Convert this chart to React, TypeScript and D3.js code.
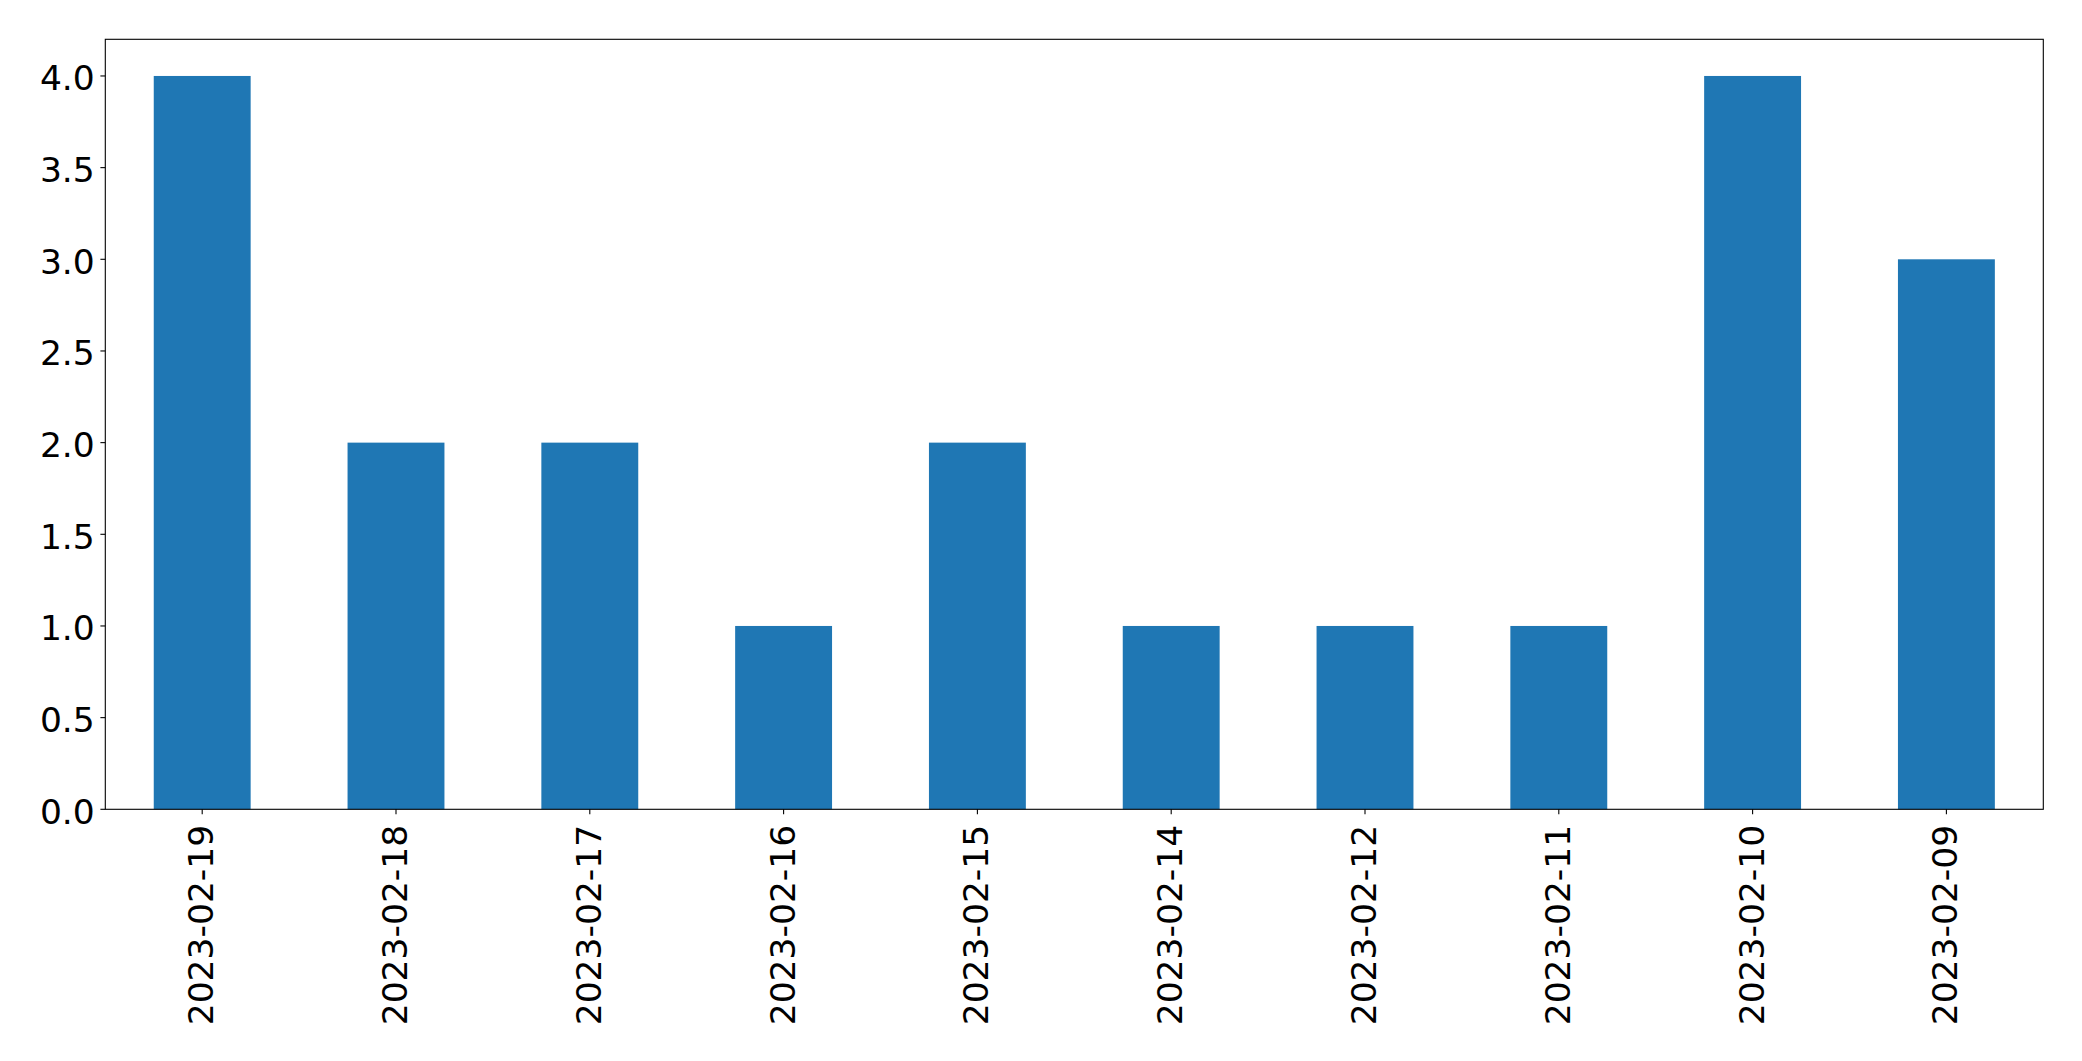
import React from "react";
import * as d3 from "d3";

const categories = ["2023-02-19","2023-02-18","2023-02-17","2023-02-16","2023-02-15","2023-02-14","2023-02-12","2023-02-11","2023-02-10","2023-02-09"];
const values = [4, 2, 2, 1, 2, 1, 1, 1, 4, 3];
const yTicks = [0, 0.5, 1, 1.5, 2, 2.5, 3, 3.5, 4];

const W = 2082, H = 1061;
const L = 105.3, R = 2043.3, T = 39.3, B = 809.3;
const FONT = "'DejaVu Sans', sans-serif";
const FS = 34.5;

export default function App() {
  const x = d3.scaleLinear().domain([-0.5, categories.length - 0.5]).range([L, R]);
  const y = d3.scaleLinear().domain([0, 4.2]).range([B, T]);
  const bw = x(0.25) - x(-0.25);
  return (
    <svg width={W} height={H} style={{ position: "absolute", left: 0, top: 0, background: "#fff" }}>
      <rect x={0} y={0} width={W} height={H} fill="#fff" />
      {values.map((v, i) => (
        <rect key={i} x={x(i) - bw / 2} y={y(v)} width={bw} height={y(0) - y(v)} fill="#1f77b4" />
      ))}
      <rect x={L} y={T} width={R - L} height={B - T} fill="none" stroke="#000" strokeWidth={1.1} />
      {yTicks.map((t) => (
        <g key={t}>
          <line x1={L - 4.9} x2={L} y1={y(t)} y2={y(t)} stroke="#000" strokeWidth={1.1} />
          <text x={L - 10.5} y={y(t) + 2.5} textAnchor="end" dominantBaseline="central" fontFamily={FONT} fontSize={FS} fill="#000">
            {t.toFixed(1)}
          </text>
        </g>
      ))}
      {categories.map((c, i) => (
        <g key={c}>
          <line x1={x(i)} x2={x(i)} y1={B} y2={B + 4.9} stroke="#000" strokeWidth={1.1} />
          <text
            transform={`translate(${x(i) - 1},${B + 15.5}) rotate(-90)`}
            textAnchor="end"
            dominantBaseline="central"
            fontFamily={FONT}
            fontSize={FS}
            fill="#000"
          >
            {c}
          </text>
        </g>
      ))}
    </svg>
  );
}
